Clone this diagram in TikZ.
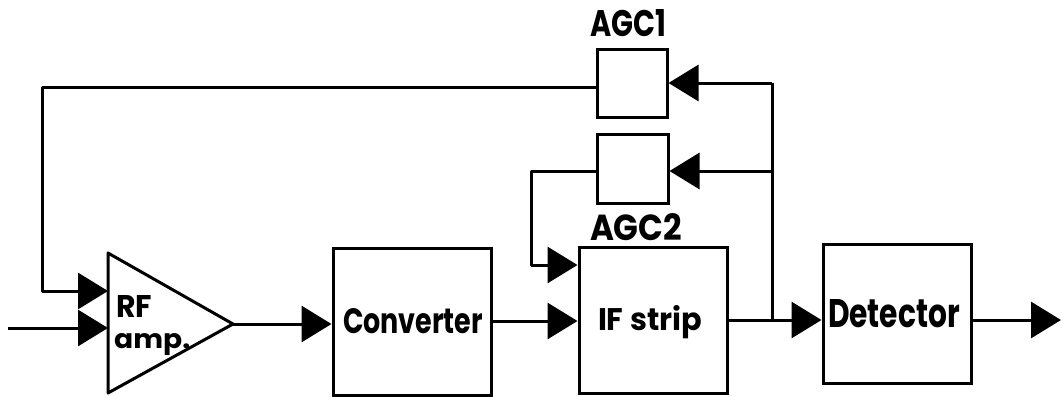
\documentclass[tikz,border=0pt]{standalone}
\usepackage{fontspec}
\setmainfont{Poppins}
\usetikzlibrary{arrows.meta}
\newcommand{\fitbox}[3]{\resizebox{#1pt}{#2pt}{#3}}
\begin{document}
\begin{tikzpicture}[x=1pt,y=-1pt,
  wire/.style={line width=3pt, line join=round},
  sig/.style={wire, -{Triangle[length=30pt,width=36pt]}},
  blockbox/.style={draw, line width=3pt, inner sep=0pt},
  lbl/.style={font=\bfseries\fontsize{30}{32}\selectfont, inner sep=0pt}
]
\useasboundingbox (0,0) rectangle (1062,396);
% blocks
\node[blockbox, minimum width=158pt, minimum height=147pt] (conv) at (412,321.5) {};
\node[blockbox, minimum width=148pt, minimum height=146pt] (ifs) at (653,320) {};
\node[blockbox, minimum width=148pt, minimum height=139pt] (det) at (897,313.5) {};
\node[blockbox, minimum width=70pt, minimum height=67pt] (agca) at (632,83.5) {};
\node[blockbox, minimum width=71pt, minimum height=69pt] (agcb) at (632.5,168.5) {};
% RF amplifier triangle
\coordinate (rftop) at (108,253);
\coordinate (rfbot) at (108,393);
\coordinate (rfout) at (233,324);
\draw[wire] (rftop) -- (rfout) -- (rfbot) -- cycle;
\coordinate (rfinA) at (108,291);
\coordinate (rfinB) at (108,328);
% labels
\node[lbl, anchor=base west] (rflbl) at (116,317) {\fitbox{36}{22}{RF}};
\node[lbl, anchor=base west] (amplbl) at (114,348) {\fitbox{76}{15}{amp.}};
\node[lbl, anchor=base] (convlbl) at (413,333) {\fitbox{140}{25}{Converter}};
\node[lbl, anchor=base] (ifslbl) at (650,330) {\fitbox{104}{25}{IF strip}};
\node[lbl, anchor=base] (detlbl) at (894,327) {\fitbox{132}{28}{Detector}};
\node[lbl, anchor=base] (agcalbl) at (628,37) {\fitbox{76}{27}{AGC1}};
\node[lbl, anchor=base] (agcblbl) at (636,240) {\fitbox{92}{27}{AGC2}};
% connectors
\coordinate (in) at (8,328);
\draw[sig] (in) -- (rfinB);
\draw[sig] (rfout) -- (rfout -| conv.west);
\draw[sig] (conv.east |- 0,321) -- (ifs.west |- 0,321);
\coordinate (br) at (772,320);
\draw[sig] (ifs.east |- br) -- (det.west |- br);
\coordinate (out) at (1061,320);
\draw[sig] (det.east |- out) -- (out);
\coordinate (brtop) at (772,83);
\draw[wire] (br) -- (brtop);
\draw[sig] (brtop) -- (agca.east |- brtop);
\coordinate (brmid) at (772,171);
\draw[sig] (brmid) -- (agcb.east |- brmid);
\coordinate (fbA) at (531,171);
\coordinate (fbB) at (531,265);
\draw[sig] (agcb.west |- fbA) -- (fbA) -- (fbB) -- (ifs.west |- fbB);
\coordinate (fbC) at (42,87);
\coordinate (fbD) at (42,291);
\draw[sig] (agca.west |- fbC) -- (fbC) -- (fbD) -- (rfinA);
\end{tikzpicture}
\end{document}
